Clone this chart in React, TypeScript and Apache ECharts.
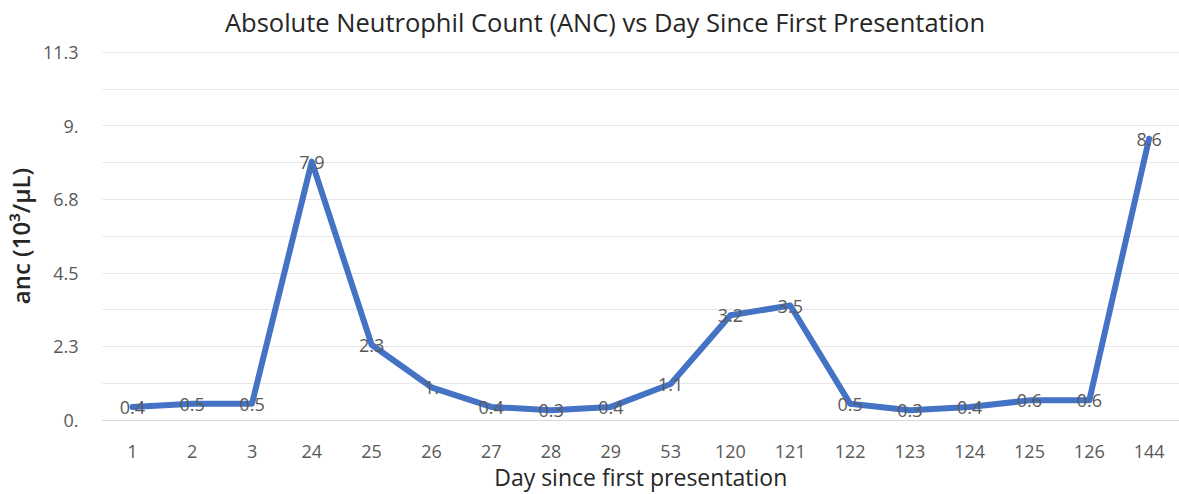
import React, { useEffect, useRef } from "react";
import * as echarts from "echarts";

const days = ["1", "2", "3", "24", "25", "26", "27", "28", "29", "53", "120", "121", "122", "123", "124", "125", "126", "144"];
const anc = [0.4, 0.5, 0.5, 7.9, 2.3, 1.0, 0.4, 0.3, 0.4, 1.1, 3.2, 3.5, 0.5, 0.3, 0.4, 0.6, 0.6, 8.6];
const yTickLabels = ["0.", "2.3", "4.5", "6.8", "9.", "11.3"];

const fmt = (v: number) => {
  const s = v.toFixed(1);
  return s.endsWith(".0") ? s.slice(0, -1) : s;
};

export default function App() {
  const ref = useRef<HTMLDivElement>(null);
  useEffect(() => {
    if (!ref.current) return;
    const chart = echarts.init(ref.current, null, { renderer: "svg" });
    const font = "Open Sans";
    chart.setOption({
      animation: false,
      backgroundColor: "#ffffff",
      title: {
        text: "Absolute Neutrophil Count (ANC) vs Day Since First Presentation",
        left: 600,
        textAlign: "center",
        top: 4,
        textStyle: { fontFamily: font, fontSize: 25.5, fontWeight: "normal", color: "#262626" },
      },
      grid: { left: 102, right: -4, top: 52, bottom: 72, containLabel: false },
      xAxis: {
        type: "category",
        data: days,
        boundaryGap: true,
        name: "Day since first presentation",
        nameLocation: "middle",
        nameGap: 45,
        nameTextStyle: { fontFamily: font, fontSize: 23, color: "#262626", lineHeight: 24 },
        axisLine: { show: true, lineStyle: { color: "#d9d9d9", width: 1 } },
        axisTick: { show: false },
        axisLabel: { fontFamily: font, fontSize: 18, color: "#595959", margin: 22, lineHeight: 18 },
      },
      yAxis: {
        type: "value",
        min: 0,
        max: 11.25,
        interval: 1.125,
        name: "anc (10³/μL)",
        nameLocation: "middle",
        nameGap: 66,
        nameRotate: 90,
        nameTextStyle: { fontFamily: font, fontSize: 24, color: "#262626", fontWeight: 600 },
        axisLine: { show: false },
        axisTick: { show: false },
        splitLine: { show: true, lineStyle: { color: "#e6e6e6", width: 1 } },
        axisLabel: {
          fontFamily: font,
          fontSize: 18,
          color: "#595959",
          margin: 24,
          formatter: (v: number) => {
            const i = Math.round(v / 1.125);
            return i % 2 === 0 ? yTickLabels[i / 2] : "";
          },
        },
      },
      series: [
        {
          type: "line",
          data: anc,
          symbol: "circle",
          symbolSize: 2,
          showSymbol: true,
          itemStyle: { color: "#4472c4" },
          lineStyle: { color: "#4472c4", width: 6, join: "round", cap: "round" },
          label: {
            show: true,
            position: "inside",
            formatter: (p: any) => fmt(p.value),
            fontFamily: font,
            fontSize: 18,
            color: "#595959",
          },
          labelLayout: { hideOverlap: false },
          z: 2,
        },
      ],
    });
    return () => chart.dispose();
  }, []);
  return (
    <div
      ref={ref}
      style={{ position: "fixed", left: 0, top: 0, width: 1179, height: 494 }}
    />
  );
}
